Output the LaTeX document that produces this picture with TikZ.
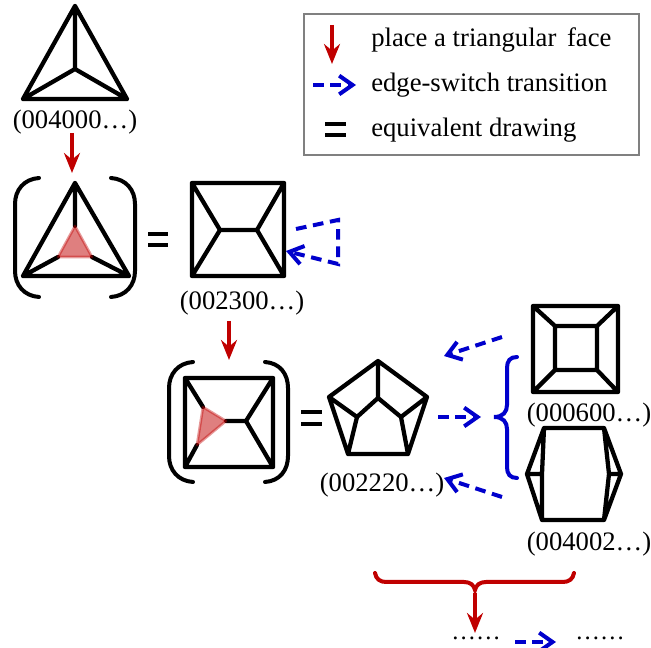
\documentclass[tikz,border=0pt]{standalone}
\usepackage{fontspec}
\setmainfont{Liberation Serif}
\usetikzlibrary{arrows.meta}
\definecolor{myred}{HTML}{C00000}
\definecolor{myblue}{HTML}{0000CC}
\tikzset{
 edge/.style={line width=3.2pt,line join=round,line cap=round,black},
 brk/.style={line width=3pt,black,line cap=round},
 eqbar/.style={line width=3.4pt,black},
 redarrow/.style={line width=3pt,myred,-{Stealth[length=15pt,width=12pt,inset=5pt]}},
 bluearrow/.style={line width=3pt,myblue,dash pattern=on 8pt off 5pt,-{Straight Barb[length=10pt,width=14pt,line width=3pt]}},
 facetri/.style={fill=myred,fill opacity=.5,draw=myred,draw opacity=.4,line width=2pt,line join=round},
 lab/.style={inner sep=0pt,font=\fontsize{20}{24}\selectfont},
 legtxt/.style={lab,anchor=west},
 legbox/.style={draw=black!50,line width=1.5pt,fill=white},
}
\begin{document}
\begin{tikzpicture}[x=0.75pt,y=-0.75pt]
\useasboundingbox (0,0) rectangle (651,648);
% legend
\coordinate (b1) at (304,14); \coordinate (b2) at (639,155);
\draw[legbox] (b1) rectangle (b2);
\coordinate (la1) at (332,25); \coordinate (la2) at (332,64);
\draw[redarrow] (la1) -- (la2);
\coordinate (lb1) at (313,85); \coordinate (lb2) at (356,85);
\draw[bluearrow] (lb1) -- (lb2);
\coordinate (lc1) at (325,124); \coordinate (lc2) at (346,124);
\coordinate (lc3) at (325,135); \coordinate (lc4) at (346,135);
\draw[eqbar] (lc1) -- (lc2) (lc3) -- (lc4);
\node[legtxt] (t1) at (371,40) {place a triangular\hspace{3pt} face};
\node[legtxt] (t2) at (371,85) {edge-switch transition};
\node[legtxt] (t3) at (371,130) {equivalent drawing};
% graph 1
\coordinate (a1) at (75,6); \coordinate (a2) at (23,99); \coordinate (a3) at (127,99); \coordinate (a4) at (75,69);
\draw[edge] (a1) -- (a2) -- (a3) -- cycle (a1) -- (a4) (a2) -- (a4) -- (a3);
\node[lab] (l1) at (75,122) {(004000…)};
\coordinate (r1a) at (72,133); \coordinate (r1b) at (72,173);
\draw[redarrow] (r1a) -- (r1b);
% graph 2 in brackets
\coordinate (c1) at (75,183); \coordinate (c2) at (23,276); \coordinate (c3) at (129,276); \coordinate (c4) at (75,226);
\coordinate (c5) at (58,257); \coordinate (c6) at (92,257);
\draw[edge] (c1) -- (c2) -- (c3) -- cycle (c1) -- (c4) (c2) -- (c5) (c3) -- (c6);
\draw[facetri] (c4) -- (c5) -- (c6) -- cycle;
\coordinate (p1) at (39,178); \coordinate (p2) at (15,204); \coordinate (p3) at (15,271); \coordinate (p4) at (39,297);
\draw[brk] (p1) .. controls (24,179) and (15,190) .. (p2) -- (p3) .. controls (15,285) and (24,296) .. (p4);
\coordinate (q1) at (111,178); \coordinate (q2) at (135,204); \coordinate (q3) at (135,271); \coordinate (q4) at (111,297);
\draw[brk] (q1) .. controls (126,179) and (135,190) .. (q2) -- (q3) .. controls (135,285) and (126,296) .. (q4);
\coordinate (e1) at (148,234); \coordinate (e2) at (168,234); \coordinate (e3) at (148,245); \coordinate (e4) at (168,245);
\draw[eqbar] (e1) -- (e2) (e3) -- (e4);
% square 1
\coordinate (s1) at (192,183); \coordinate (s2) at (284,183); \coordinate (s3) at (284,276); \coordinate (s4) at (192,276);
\coordinate (s5) at (220,230); \coordinate (s6) at (257,230);
\draw[edge] (s1) -- (s2) -- (s3) -- (s4) -- cycle (s1) -- (s5) -- (s4) (s5) -- (s6) (s2) -- (s6) -- (s3);
\node[lab] (l2) at (242,303) {(002300…)};
\coordinate (u1) at (296,229); \coordinate (u2) at (338,220); \coordinate (u3) at (338,264); \coordinate (u4) at (286,251);
\draw[bluearrow] (u1) -- (u2) -- (u3) -- (u4);
\coordinate (r2a) at (229,321); \coordinate (r2b) at (229,360);
\draw[redarrow] (r2a) -- (r2b);
% second bracketed graph
\coordinate (v1) at (185,378); \coordinate (v2) at (273,378); \coordinate (v3) at (273,467); \coordinate (v4) at (185,467);
\coordinate (v5) at (203,407); \coordinate (v6) at (226,421); \coordinate (v7) at (197,445); \coordinate (v8) at (246,421);
\draw[edge] (v1) -- (v2) -- (v3) -- (v4) -- cycle (v1) -- (v5) (v4) -- (v7) (v6) -- (v8) (v2) -- (v8) -- (v3);
\draw[facetri] (v5) -- (v6) -- (v7) -- cycle;
\coordinate (w1) at (193,362); \coordinate (w2) at (169,388); \coordinate (w3) at (169,456); \coordinate (w4) at (193,482);
\draw[brk] (w1) .. controls (178,363) and (169,374) .. (w2) -- (w3) .. controls (169,470) and (178,481) .. (w4);
\coordinate (x1) at (265,362); \coordinate (x2) at (288,388); \coordinate (x3) at (288,456); \coordinate (x4) at (265,482);
\draw[brk] (x1) .. controls (280,363) and (288,374) .. (x2) -- (x3) .. controls (288,470) and (280,481) .. (x4);
\coordinate (f1) at (301,412); \coordinate (f2) at (322,412); \coordinate (f3) at (301,424); \coordinate (f4) at (322,424);
\draw[eqbar] (f1) -- (f2) (f3) -- (f4);
% pentagon
\coordinate (g1) at (378,361); \coordinate (g2) at (329,397); \coordinate (g3) at (348,454); \coordinate (g4) at (408,454); \coordinate (g5) at (427,397);
\coordinate (g6) at (378,398); \coordinate (g7) at (357,417); \coordinate (g8) at (401,417);
\draw[edge] (g1) -- (g2) -- (g3) -- (g4) -- (g5) -- cycle (g1) -- (g6) (g7) -- (g6) -- (g8) (g2) -- (g7) -- (g3) (g5) -- (g8) -- (g4);
\node[lab] (l3) at (382,485) {(002220…)};
% blue arrows
\coordinate (h1) at (502,337); \coordinate (h2) at (444,356);
\draw[bluearrow] (h1) -- (h2);
\coordinate (h3) at (438,417); \coordinate (h4) at (481,417);
\draw[bluearrow] (h3) -- (h4);
\coordinate (h5) at (502,497); \coordinate (h6) at (444,478);
\draw[bluearrow] (h5) -- (h6);
% blue brace
\coordinate (k1) at (517,357); \coordinate (k2) at (494,417); \coordinate (k3) at (517,478);
\draw[line width=3pt,myblue,line cap=round] (k1) .. controls (510,357) and (507,361) .. (507,368) -- (507,405) .. controls (507,412) and (503,417) .. (k2) .. controls (503,417) and (507,422) .. (507,429) -- (507,467) .. controls (507,474) and (510,478) .. (k3);
% square 3
\coordinate (m1) at (533,306); \coordinate (m2) at (618,306); \coordinate (m3) at (618,392); \coordinate (m4) at (533,392);
\coordinate (m5) at (555,326); \coordinate (m6) at (597,326); \coordinate (m7) at (597,370); \coordinate (m8) at (555,370);
\draw[edge] (m1) -- (m2) -- (m3) -- (m4) -- cycle (m5) -- (m6) -- (m7) -- (m8) -- cycle (m1) -- (m5) (m2) -- (m6) (m3) -- (m7) (m4) -- (m8);
\node[lab] (l4) at (589,415) {(000600…)};
% hexagon
\coordinate (n1) at (544,428); \coordinate (n2) at (604,428); \coordinate (n3) at (621,474); \coordinate (n4) at (604,520); \coordinate (n5) at (542,520); \coordinate (n6) at (527,474);
\coordinate (n7) at (542,474); \coordinate (n8) at (609,474);
\draw[edge] (n1) -- (n2) -- (n3) -- (n4) -- (n5) -- (n6) -- cycle (n1) -- (n7) -- (n5) (n2) -- (n8) -- (n4) (n6) -- (n7) (n8) -- (n3);
\node[lab] (l5) at (589,544) {(004002…)};
% red brace
\coordinate (o1) at (375,573); \coordinate (o2) at (475,590); \coordinate (o3) at (574,573);
\draw[line width=3pt,myred,line cap=round] (o1) .. controls (376,579) and (380,582) .. (386,582) -- (464,582) .. controls (470,582) and (474,585) .. (o2) .. controls (476,585) and (480,582) .. (486,582) -- (563,582) .. controls (569,582) and (573,579) .. (o3);
\coordinate (r3a) at (475,593); \coordinate (r3b) at (475,633);
\draw[redarrow] (r3a) -- (r3b);
% bottom
\node[lab,font=\fontsize{18.5}{22}\selectfont] (d1) at (476,638) {……};
\node[lab,font=\fontsize{18.5}{22}\selectfont] (d2) at (600,638) {……};
\coordinate (y1) at (515,642); \coordinate (y2) at (556,642);
\draw[bluearrow] (y1) -- (y2);
\end{tikzpicture}
\end{document}
